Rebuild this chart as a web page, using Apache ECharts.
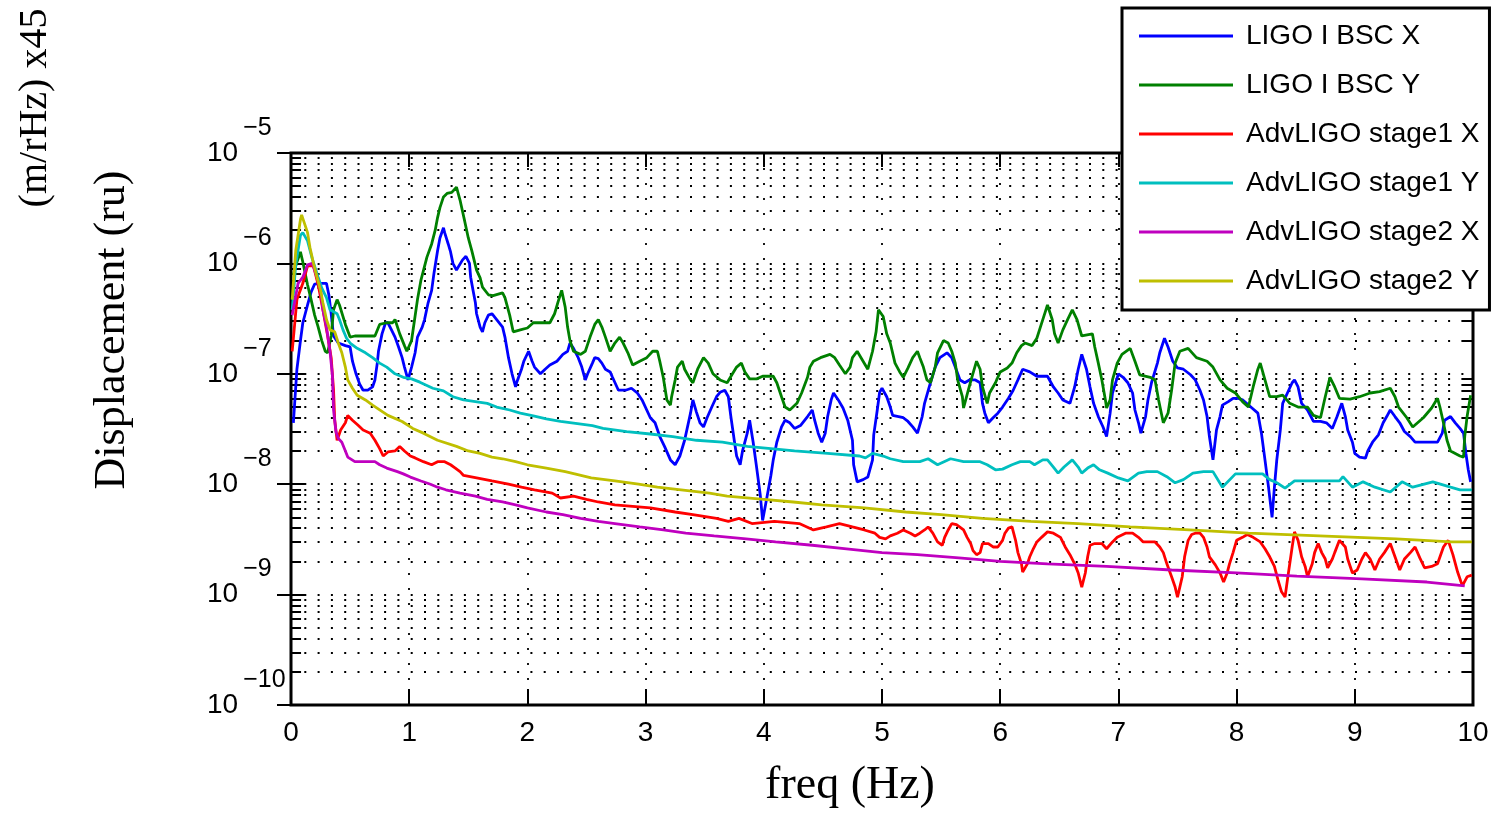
<!DOCTYPE html>
<html><head><meta charset="utf-8">
<script src="https://cdn.jsdelivr.net/npm/echarts@6/dist/echarts.min.js"></script>
<style>html,body{margin:0;padding:0;background:#fff}#c{width:1492px;height:813px}</style>
</head><body><div id="c"></div>
<script>
const seriesNames = ['LIGO I BSC X','LIGO I BSC Y','AdvLIGO stage1 X','AdvLIGO stage1 Y','AdvLIGO stage2 X','AdvLIGO stage2 Y'];
const seriesColors = ['#0000ff','#008000','#ff0000','#00bfbf','#bf00bf','#bfbf00'];

const ligoBscX = [[0.02,3.6e-8],[0.05,1.1e-7],[0.08,2.0e-7],[0.10,2.9e-7],[0.14,4.2e-7],[0.17,5.5e-7],[0.20,6.5e-7],[0.25,6.6e-7],[0.30,6.6e-7],[0.32,5.2e-7],[0.34,3.5e-7],[0.36,2.2e-7],[0.40,1.9e-7],[0.46,1.8e-7],[0.50,1.75e-7],[0.52,1.3e-7],[0.55,1.0e-7],[0.58,8.1e-8],[0.61,7.1e-8],[0.65,7.1e-8],[0.69,7.6e-8],[0.71,8.8e-8],[0.73,1.25e-7],[0.74,1.6e-7],[0.77,2.3e-7],[0.80,2.9e-7],[0.82,2.9e-7],[0.85,2.5e-7],[0.88,2.15e-7],[0.91,1.75e-7],[0.94,1.4e-7],[0.96,1.15e-7],[0.99,8.8e-8],[1.02,1.15e-7],[1.05,1.55e-7],[1.07,2.15e-7],[1.11,2.65e-7],[1.13,3.1e-7],[1.16,4.4e-7],[1.19,5.7e-7],[1.21,8.2e-7],[1.24,1.3e-6],[1.26,1.7e-6],[1.29,2.1e-6],[1.30,1.9e-6],[1.33,1.5e-6],[1.35,1.27e-6],[1.37,1.0e-6],[1.40,8.7e-7],[1.45,1.07e-6],[1.48,1.16e-6],[1.51,1.0e-6],[1.52,7.5e-7],[1.54,5.7e-7],[1.56,4.4e-7],[1.57,3.5e-7],[1.60,2.65e-7],[1.62,2.4e-7],[1.64,2.9e-7],[1.67,3.4e-7],[1.70,3.5e-7],[1.74,3.1e-7],[1.79,2.65e-7],[1.81,2.15e-7],[1.84,1.4e-7],[1.87,1.0e-7],[1.90,7.6e-8],[1.91,8.4e-8],[1.95,1.1e-7],[1.97,1.3e-7],[2.01,1.6e-7],[2.04,1.3e-7],[2.06,1.15e-7],[2.11,1.0e-7],[2.15,1.1e-7],[2.19,1.2e-7],[2.25,1.3e-7],[2.30,1.5e-7],[2.34,1.6e-7],[2.36,1.9e-7],[2.39,1.7e-7],[2.43,1.4e-7],[2.46,1.15e-7],[2.49,8.8e-8],[2.51,1.0e-7],[2.55,1.25e-7],[2.57,1.4e-7],[2.60,1.37e-7],[2.63,1.25e-7],[2.66,1.1e-7],[2.70,1.04e-7],[2.72,9.3e-8],[2.77,7.1e-8],[2.83,7.1e-8],[2.88,7.4e-8],[2.93,6.7e-8],[2.97,5.8e-8],[3.04,4.0e-8],[3.08,3.6e-8],[3.12,2.7e-8],[3.16,2.2e-8],[3.21,1.66e-8],[3.25,1.5e-8],[3.29,1.8e-8],[3.33,2.5e-8],[3.38,4.4e-8],[3.40,5.8e-8],[3.43,4.5e-8],[3.46,3.6e-8],[3.49,3.3e-8],[3.52,4.0e-8],[3.56,5.0e-8],[3.60,6.2e-8],[3.63,6.8e-8],[3.67,7.1e-8],[3.70,6.2e-8],[3.72,4.2e-8],[3.75,2.5e-8],[3.77,1.8e-8],[3.80,1.5e-8],[3.82,2.0e-8],[3.86,2.9e-8],[3.88,3.8e-8],[3.91,2.4e-8],[3.94,1.4e-8],[3.97,8.0e-9],[3.99,4.7e-9],[4.03,8.0e-9],[4.06,1.2e-8],[4.08,1.66e-8],[4.11,2.4e-8],[4.15,3.3e-8],[4.18,3.8e-8],[4.22,3.6e-8],[4.26,3.2e-8],[4.31,3.4e-8],[4.37,4.1e-8],[4.41,4.7e-8],[4.43,3.8e-8],[4.46,2.9e-8],[4.49,2.4e-8],[4.52,2.9e-8],[4.54,4.1e-8],[4.57,5.8e-8],[4.59,6.7e-8],[4.63,5.8e-8],[4.67,4.9e-8],[4.71,3.8e-8],[4.75,2.5e-8],[4.76,1.5e-8],[4.79,1.05e-8],[4.84,1.1e-8],[4.88,1.16e-8],[4.92,1.66e-8],[4.93,2.8e-8],[4.96,4.7e-8],[4.98,6.8e-8],[5.00,7.4e-8],[5.04,6.2e-8],[5.07,5.0e-8],[5.09,4.2e-8],[5.14,4.1e-8],[5.18,4.0e-8],[5.22,3.7e-8],[5.26,3.3e-8],[5.30,2.9e-8],[5.34,4.1e-8],[5.36,5.4e-8],[5.41,8.3e-8],[5.45,1.15e-7],[5.49,1.4e-7],[5.55,1.55e-7],[5.59,1.4e-7],[5.62,1.15e-7],[5.66,8.8e-8],[5.70,8.3e-8],[5.74,8.8e-8],[5.79,8.8e-8],[5.83,8.3e-8],[5.85,5.4e-8],[5.87,4.4e-8],[5.90,3.6e-8],[5.94,4.0e-8],[5.98,4.4e-8],[6.02,5.0e-8],[6.07,6.0e-8],[6.11,7.1e-8],[6.15,8.8e-8],[6.19,1.1e-7],[6.25,1.04e-7],[6.31,9.5e-8],[6.40,9.5e-8],[6.45,7.6e-8],[6.49,6.7e-8],[6.53,5.8e-8],[6.59,5.4e-8],[6.63,7.6e-8],[6.66,1.1e-7],[6.69,1.5e-7],[6.73,1.1e-7],[6.76,7.6e-8],[6.79,5.4e-8],[6.83,4.1e-8],[6.87,3.3e-8],[6.90,2.7e-8],[6.93,4.4e-8],[6.95,6.7e-8],[7.00,1.0e-7],[7.04,9.3e-8],[7.08,8.3e-8],[7.12,6.7e-8],[7.14,4.7e-8],[7.17,3.6e-8],[7.19,2.9e-8],[7.23,4.1e-8],[7.25,5.8e-8],[7.28,8.3e-8],[7.33,1.25e-7],[7.35,1.55e-7],[7.39,2.1e-7],[7.42,1.75e-7],[7.46,1.3e-7],[7.50,1.13e-7],[7.55,1.1e-7],[7.61,9.8e-8],[7.65,8.8e-8],[7.69,7.1e-8],[7.72,5.8e-8],[7.75,4.1e-8],[7.77,2.7e-8],[7.80,1.66e-8],[7.83,3.1e-8],[7.86,4.1e-8],[7.88,5.2e-8],[7.93,5.6e-8],[7.97,6.0e-8],[8.01,6.0e-8],[8.05,5.8e-8],[8.13,4.9e-8],[8.18,4.4e-8],[8.21,2.9e-8],[8.24,1.66e-8],[8.27,9.4e-9],[8.30,5.0e-9],[8.32,9.4e-9],[8.34,1.66e-8],[8.37,3.1e-8],[8.39,5.4e-8],[8.43,6.7e-8],[8.47,8.3e-8],[8.49,8.8e-8],[8.52,7.6e-8],[8.55,5.4e-8],[8.60,4.7e-8],[8.65,3.7e-8],[8.71,3.7e-8],[8.76,3.6e-8],[8.81,3.2e-8],[8.85,4.1e-8],[8.89,5.4e-8],[8.92,4.1e-8],[8.94,3.1e-8],[8.98,2.4e-8],[9.00,1.9e-8],[9.04,1.76e-8],[9.09,1.72e-8],[9.11,2.0e-8],[9.15,2.4e-8],[9.20,2.8e-8],[9.24,3.6e-8],[9.27,4.1e-8],[9.30,4.7e-8],[9.34,4.1e-8],[9.38,3.6e-8],[9.42,3.0e-8],[9.47,2.7e-8],[9.51,2.4e-8],[9.61,2.4e-8],[9.70,2.4e-8],[9.74,2.9e-8],[9.76,3.8e-8],[9.81,4.1e-8],[9.85,3.6e-8],[9.89,3.2e-8],[9.92,2.9e-8],[9.94,1.9e-8],[9.96,1.35e-8],[9.98,1.05e-8]];

const ligoBscY = [[0.02,7.9e-7],[0.05,1.03e-6],[0.08,1.27e-6],[0.10,1.03e-6],[0.14,6.4e-7],[0.17,4.7e-7],[0.20,3.4e-7],[0.23,2.65e-7],[0.26,2.0e-7],[0.29,1.6e-7],[0.31,1.55e-7],[0.34,2.2e-7],[0.36,3.8e-7],[0.39,4.7e-7],[0.41,4.2e-7],[0.46,2.8e-7],[0.50,2.15e-7],[0.54,2.2e-7],[0.63,2.2e-7],[0.71,2.2e-7],[0.75,2.8e-7],[0.81,2.9e-7],[0.86,2.9e-7],[0.88,3.1e-7],[0.92,2.3e-7],[0.96,1.8e-7],[0.98,1.6e-7],[1.02,2.0e-7],[1.07,4.7e-7],[1.10,7.1e-7],[1.15,1.14e-6],[1.19,1.5e-6],[1.22,2.0e-6],[1.24,2.6e-6],[1.26,3.2e-6],[1.29,4.0e-6],[1.32,4.3e-6],[1.36,4.4e-6],[1.40,4.9e-6],[1.43,3.75e-6],[1.45,3.0e-6],[1.47,2.4e-6],[1.50,1.7e-6],[1.53,1.3e-6],[1.57,8.7e-7],[1.60,7.4e-7],[1.62,6.1e-7],[1.67,5.2e-7],[1.71,5.1e-7],[1.79,5.4e-7],[1.81,4.9e-7],[1.85,3.4e-7],[1.88,2.4e-7],[1.94,2.5e-7],[2.00,2.6e-7],[2.05,2.9e-7],[2.19,2.9e-7],[2.23,3.5e-7],[2.26,4.5e-7],[2.29,5.7e-7],[2.32,4.0e-7],[2.34,2.65e-7],[2.36,2.0e-7],[2.39,1.6e-7],[2.45,1.5e-7],[2.49,1.6e-7],[2.53,2.15e-7],[2.57,2.8e-7],[2.60,3.1e-7],[2.63,2.65e-7],[2.66,2.15e-7],[2.70,1.6e-7],[2.74,1.9e-7],[2.78,2.15e-7],[2.81,1.9e-7],[2.85,1.55e-7],[2.89,1.2e-7],[2.95,1.3e-7],[3.01,1.4e-7],[3.06,1.6e-7],[3.10,1.6e-7],[3.12,1.3e-7],[3.15,9.2e-8],[3.18,5.8e-8],[3.21,5.2e-8],[3.22,6.2e-8],[3.25,8.8e-8],[3.27,1.15e-7],[3.31,1.3e-7],[3.33,1.1e-7],[3.38,8.8e-8],[3.40,8.3e-8],[3.44,1.1e-7],[3.49,1.4e-7],[3.53,1.25e-7],[3.57,1.0e-7],[3.63,8.8e-8],[3.69,8.3e-8],[3.73,9.8e-8],[3.77,1.15e-7],[3.81,1.25e-7],[3.84,1.04e-7],[3.88,9.0e-8],[3.94,9.0e-8],[3.99,9.5e-8],[4.08,9.5e-8],[4.11,8.3e-8],[4.15,6.2e-8],[4.18,5.0e-8],[4.22,4.7e-8],[4.28,5.4e-8],[4.32,6.7e-8],[4.37,9.3e-8],[4.39,1.15e-7],[4.42,1.3e-7],[4.48,1.4e-7],[4.56,1.5e-7],[4.60,1.4e-7],[4.64,1.2e-7],[4.69,1.0e-7],[4.73,1.15e-7],[4.75,1.4e-7],[4.79,1.6e-7],[4.84,1.3e-7],[4.88,1.1e-7],[4.92,1.6e-7],[4.95,2.4e-7],[4.97,3.8e-7],[5.01,3.3e-7],[5.04,2.3e-7],[5.07,1.9e-7],[5.11,1.25e-7],[5.15,1.04e-7],[5.18,9.3e-8],[5.22,1.13e-7],[5.26,1.4e-7],[5.30,1.6e-7],[5.32,1.4e-7],[5.35,1.15e-7],[5.38,8.8e-8],[5.41,8.3e-8],[5.45,1.15e-7],[5.47,1.55e-7],[5.52,2.0e-7],[5.56,1.9e-7],[5.59,1.6e-7],[5.62,1.25e-7],[5.64,8.8e-8],[5.68,6.2e-8],[5.69,4.9e-8],[5.73,7.1e-8],[5.76,9.3e-8],[5.80,1.3e-7],[5.83,1.1e-7],[5.85,7.6e-8],[5.89,5.4e-8],[5.91,6.7e-8],[5.96,8.3e-8],[6.00,1.04e-7],[6.06,1.13e-7],[6.10,1.25e-7],[6.14,1.55e-7],[6.18,1.8e-7],[6.21,1.9e-7],[6.27,1.8e-7],[6.31,2.1e-7],[6.34,2.65e-7],[6.38,3.6e-7],[6.40,4.2e-7],[6.44,3.1e-7],[6.46,2.3e-7],[6.49,1.9e-7],[6.53,2.5e-7],[6.57,3.1e-7],[6.61,3.8e-7],[6.65,3.1e-7],[6.69,2.2e-7],[6.78,2.3e-7],[6.80,1.75e-7],[6.83,1.25e-7],[6.86,8.8e-8],[6.89,5.8e-8],[6.90,4.9e-8],[6.93,5.8e-8],[6.95,8.8e-8],[6.99,1.25e-7],[7.03,1.5e-7],[7.10,1.7e-7],[7.14,1.3e-7],[7.18,9.8e-8],[7.27,9.3e-8],[7.31,8.8e-8],[7.34,5.8e-8],[7.38,3.6e-8],[7.42,4.4e-8],[7.45,7.1e-8],[7.48,1.25e-7],[7.52,1.6e-7],[7.59,1.7e-7],[7.66,1.4e-7],[7.75,1.3e-7],[7.80,1.15e-7],[7.86,8.8e-8],[7.92,7.4e-8],[7.99,6.7e-8],[8.05,5.6e-8],[8.10,5.0e-8],[8.14,7.6e-8],[8.18,1.1e-7],[8.20,1.25e-7],[8.24,8.8e-8],[8.28,6.2e-8],[8.34,6.2e-8],[8.39,6.4e-8],[8.45,5.4e-8],[8.52,5.0e-8],[8.60,5.0e-8],[8.65,4.2e-8],[8.71,4.0e-8],[8.75,6.2e-8],[8.79,9.3e-8],[8.83,7.6e-8],[8.87,6.0e-8],[8.96,5.9e-8],[9.04,6.2e-8],[9.13,6.7e-8],[9.21,6.9e-8],[9.30,7.4e-8],[9.34,6.2e-8],[9.37,5.0e-8],[9.44,4.0e-8],[9.49,3.3e-8],[9.58,4.0e-8],[9.65,4.9e-8],[9.70,6.0e-8],[9.72,5.0e-8],[9.75,3.6e-8],[9.78,2.5e-8],[9.81,2.0e-8],[9.89,1.8e-8],[9.92,1.76e-8],[9.93,2.7e-8],[9.95,4.1e-8],[9.98,6.4e-8]];

const advStage1X = [[0.01,1.6e-7],[0.05,4.7e-7],[0.10,6.6e-7],[0.14,9.5e-7],[0.19,9.5e-7],[0.23,6.4e-7],[0.27,3.8e-7],[0.31,2.2e-7],[0.34,1.4e-7],[0.36,7.1e-8],[0.37,3.8e-8],[0.39,2.5e-8],[0.42,3.1e-8],[0.46,3.6e-8],[0.48,4.2e-8],[0.52,3.8e-8],[0.57,3.4e-8],[0.61,3.1e-8],[0.67,2.9e-8],[0.71,2.5e-8],[0.75,2.1e-8],[0.78,1.8e-8],[0.82,1.96e-8],[0.88,2.0e-8],[0.92,2.2e-8],[0.96,2.0e-8],[1.01,1.8e-8],[1.05,1.73e-8],[1.12,1.6e-8],[1.19,1.5e-8],[1.24,1.6e-8],[1.30,1.6e-8],[1.35,1.5e-8],[1.39,1.4e-8],[1.43,1.3e-8],[1.46,1.2e-8],[1.57,1.14e-8],[1.70,1.07e-8],[1.84,1.0e-8],[1.95,9.4e-9],[2.06,8.9e-9],[2.21,8.3e-9],[2.28,7.5e-9],[2.39,7.8e-9],[2.50,7.3e-9],[2.60,6.9e-9],[2.74,6.5e-9],[3.04,6.1e-9],[3.25,5.6e-9],[3.40,5.3e-9],[3.60,4.9e-9],[3.70,4.6e-9],[3.79,4.9e-9],[3.90,4.4e-9],[4.09,4.6e-9],[4.30,4.4e-9],[4.42,3.85e-9],[4.53,4.1e-9],[4.64,4.4e-9],[4.75,4.1e-9],[4.85,3.85e-9],[4.94,3.6e-9],[4.98,3.3e-9],[5.03,3.2e-9],[5.07,3.4e-9],[5.13,3.6e-9],[5.18,3.85e-9],[5.24,3.6e-9],[5.28,3.4e-9],[5.32,3.6e-9],[5.36,3.85e-9],[5.39,4.1e-9],[5.43,3.6e-9],[5.47,3.0e-9],[5.51,2.8e-9],[5.53,3.3e-9],[5.56,3.85e-9],[5.59,4.4e-9],[5.63,4.3e-9],[5.69,3.85e-9],[5.72,3.3e-9],[5.75,2.9e-9],[5.77,2.5e-9],[5.80,2.3e-9],[5.83,2.4e-9],[5.85,2.9e-9],[5.90,2.9e-9],[5.94,2.7e-9],[5.98,2.7e-9],[6.02,3.1e-9],[6.04,3.6e-9],[6.07,4.0e-9],[6.10,4.1e-9],[6.13,3.1e-9],[6.15,2.4e-9],[6.18,1.9e-9],[6.19,1.6e-9],[6.23,1.9e-9],[6.25,2.2e-9],[6.28,2.6e-9],[6.31,3.0e-9],[6.35,3.3e-9],[6.40,3.7e-9],[6.45,3.6e-9],[6.51,3.3e-9],[6.55,2.7e-9],[6.59,2.3e-9],[6.63,1.9e-9],[6.66,1.57e-9],[6.69,1.17e-9],[6.72,1.57e-9],[6.74,2.2e-9],[6.76,2.8e-9],[6.80,2.9e-9],[6.86,2.9e-9],[6.90,2.6e-9],[6.95,3.0e-9],[6.99,3.3e-9],[7.06,3.6e-9],[7.12,3.6e-9],[7.17,3.3e-9],[7.21,3.0e-9],[7.31,3.0e-9],[7.35,2.7e-9],[7.38,2.4e-9],[7.41,1.9e-9],[7.45,1.45e-9],[7.48,1.17e-9],[7.50,9.5e-10],[7.54,1.45e-9],[7.56,2.2e-9],[7.59,3.1e-9],[7.62,3.5e-9],[7.65,3.6e-9],[7.69,3.6e-9],[7.72,3.3e-9],[7.75,2.7e-9],[7.77,2.2e-9],[7.82,1.86e-9],[7.86,1.57e-9],[7.89,1.3e-9],[7.92,1.57e-9],[7.94,1.9e-9],[7.97,2.4e-9],[8.00,3.1e-9],[8.05,3.3e-9],[8.09,3.5e-9],[8.14,3.3e-9],[8.20,3.0e-9],[8.24,2.6e-9],[8.28,2.2e-9],[8.32,1.8e-9],[8.35,1.36e-9],[8.38,1.06e-9],[8.41,9.5e-10],[8.43,1.36e-9],[8.47,2.7e-9],[8.49,3.7e-9],[8.52,3.1e-9],[8.55,2.2e-9],[8.58,1.8e-9],[8.60,1.45e-9],[8.64,1.9e-9],[8.66,2.4e-9],[8.69,2.9e-9],[8.72,2.4e-9],[8.75,2.1e-9],[8.77,1.75e-9],[8.81,2.1e-9],[8.83,2.4e-9],[8.87,3.1e-9],[8.92,2.7e-9],[8.94,2.1e-9],[8.98,1.57e-9],[9.02,1.67e-9],[9.06,2.1e-9],[9.09,2.4e-9],[9.13,2.1e-9],[9.17,1.67e-9],[9.21,2.1e-9],[9.25,2.4e-9],[9.30,2.9e-9],[9.34,2.2e-9],[9.38,1.67e-9],[9.42,2.1e-9],[9.47,2.4e-9],[9.51,2.7e-9],[9.55,2.15e-9],[9.59,1.75e-9],[9.65,1.8e-9],[9.70,1.9e-9],[9.75,2.7e-9],[9.79,3.1e-9],[9.83,2.3e-9],[9.87,1.6e-9],[9.91,1.2e-9],[9.95,1.45e-9],[9.99,1.5e-9]];

const advStage1Y = [[0.01,3.8e-7],[0.04,9.7e-7],[0.08,1.8e-6],[0.10,1.9e-6],[0.14,1.6e-6],[0.18,1.1e-6],[0.23,7.5e-7],[0.26,6.0e-7],[0.30,4.9e-7],[0.33,3.8e-7],[0.39,3.5e-7],[0.41,3.1e-7],[0.44,2.5e-7],[0.47,2.1e-7],[0.50,1.9e-7],[0.56,1.7e-7],[0.63,1.55e-7],[0.69,1.4e-7],[0.75,1.25e-7],[0.81,1.15e-7],[0.88,1.0e-7],[0.95,9.3e-8],[1.02,9.0e-8],[1.09,8.4e-8],[1.20,7.4e-8],[1.29,7.0e-8],[1.37,6.2e-8],[1.46,5.8e-8],[1.66,5.4e-8],[1.74,5.0e-8],[1.85,4.7e-8],[1.94,4.4e-8],[2.05,4.15e-8],[2.16,3.9e-8],[2.28,3.7e-8],[2.55,3.4e-8],[2.64,3.2e-8],[2.84,3.0e-8],[3.04,2.85e-8],[3.23,2.7e-8],[3.43,2.5e-8],[3.65,2.4e-8],[3.86,2.2e-8],[4.26,2.0e-8],[4.54,1.9e-8],[4.81,1.8e-8],[4.86,1.73e-8],[4.92,1.9e-8],[5.01,1.8e-8],[5.07,1.7e-8],[5.18,1.6e-8],[5.32,1.6e-8],[5.39,1.7e-8],[5.47,1.5e-8],[5.58,1.7e-8],[5.69,1.6e-8],[5.83,1.6e-8],[5.89,1.5e-8],[5.96,1.35e-8],[6.02,1.37e-8],[6.10,1.5e-8],[6.17,1.6e-8],[6.25,1.6e-8],[6.29,1.5e-8],[6.36,1.66e-8],[6.40,1.66e-8],[6.45,1.43e-8],[6.49,1.26e-8],[6.54,1.43e-8],[6.61,1.66e-8],[6.66,1.43e-8],[6.69,1.26e-8],[6.74,1.4e-8],[6.79,1.5e-8],[6.84,1.35e-8],[6.91,1.26e-8],[7.00,1.14e-8],[7.08,1.07e-8],[7.17,1.26e-8],[7.24,1.3e-8],[7.33,1.3e-8],[7.41,1.17e-8],[7.48,1.03e-8],[7.55,1.1e-8],[7.63,1.26e-8],[7.72,1.3e-8],[7.80,1.3e-8],[7.88,9.4e-9],[7.99,1.24e-8],[8.14,1.24e-8],[8.22,1.24e-8],[8.28,1.1e-8],[8.34,1.03e-8],[8.41,9.2e-9],[8.49,1.07e-8],[8.87,1.07e-8],[8.90,1.17e-8],[8.98,9.4e-9],[9.07,1.05e-8],[9.17,9.4e-9],[9.30,8.5e-9],[9.40,1.05e-8],[9.49,9.4e-9],[9.66,1.05e-8],[9.81,9.4e-9],[9.89,8.9e-9],[9.99,8.9e-9]];

const advStage2X = [[0.01,3.4e-7],[0.06,6.6e-7],[0.10,7.5e-7],[0.14,9.7e-7],[0.18,1.0e-6],[0.22,7.5e-7],[0.25,5.7e-7],[0.27,3.8e-7],[0.30,2.65e-7],[0.33,1.6e-7],[0.35,9.8e-8],[0.36,4.7e-8],[0.38,3.0e-8],[0.40,2.6e-8],[0.43,2.4e-8],[0.46,2.0e-8],[0.48,1.76e-8],[0.54,1.6e-8],[0.63,1.6e-8],[0.71,1.6e-8],[0.75,1.5e-8],[0.81,1.4e-8],[0.90,1.3e-8],[0.95,1.24e-8],[1.01,1.16e-8],[1.10,1.07e-8],[1.18,1.0e-8],[1.24,9.4e-9],[1.31,8.9e-9],[1.43,8.3e-9],[1.56,7.8e-9],[1.66,7.3e-9],[1.79,6.9e-9],[1.90,6.5e-9],[2.00,6.1e-9],[2.16,5.6e-9],[2.30,5.3e-9],[2.45,4.9e-9],[2.60,4.6e-9],[2.74,4.4e-9],[2.95,4.1e-9],[3.15,3.85e-9],[3.34,3.6e-9],[3.58,3.4e-9],[3.85,3.2e-9],[4.10,3.0e-9],[4.41,2.8e-9],[4.70,2.6e-9],[5.00,2.4e-9],[5.30,2.3e-9],[5.65,2.15e-9],[6.00,2.0e-9],[6.40,1.9e-9],[6.90,1.8e-9],[7.45,1.67e-9],[8.00,1.57e-9],[8.51,1.47e-9],[9.06,1.39e-9],[9.61,1.3e-9],[9.93,1.2e-9]];

const advStage2Y = [[0.01,4.7e-7],[0.04,1.3e-6],[0.08,2.5e-6],[0.09,2.75e-6],[0.14,1.9e-6],[0.16,1.4e-6],[0.19,1.0e-6],[0.22,7.5e-7],[0.25,5.7e-7],[0.27,4.4e-7],[0.30,3.1e-7],[0.33,2.5e-7],[0.37,2.4e-7],[0.40,1.9e-7],[0.43,1.55e-7],[0.46,1.15e-7],[0.48,8.8e-8],[0.52,7.4e-8],[0.56,6.4e-8],[0.63,5.8e-8],[0.69,5.2e-8],[0.82,4.2e-8],[0.94,3.7e-8],[1.03,3.2e-8],[1.12,2.9e-8],[1.24,2.5e-8],[1.40,2.2e-8],[1.50,2.0e-8],[1.60,1.9e-8],[1.70,1.76e-8],[1.79,1.7e-8],[1.90,1.6e-8],[2.00,1.5e-8],[2.16,1.4e-8],[2.32,1.3e-8],[2.40,1.24e-8],[2.54,1.14e-8],[2.74,1.07e-8],[2.94,1.0e-8],[3.10,9.4e-9],[3.30,8.9e-9],[3.54,8.3e-9],[3.69,7.8e-9],[4.00,7.3e-9],[4.25,6.9e-9],[4.49,6.5e-9],[4.85,6.1e-9],[5.20,5.6e-9],[5.50,5.3e-9],[5.85,4.9e-9],[6.26,4.6e-9],[6.66,4.4e-9],[7.10,4.1e-9],[7.60,3.85e-9],[8.10,3.6e-9],[8.70,3.4e-9],[9.35,3.2e-9],[9.82,3.0e-9],[9.99,3.0e-9]];

const xTickLabels = ['0','1','2','3','4','5','6','7','8','9','10'];
const yTickExponents = ['\u221210','\u22129','\u22128','\u22127','\u22126','\u22125'];
const yMinorValues = [2e-10,3e-10,4e-10,5e-10,6e-10,7e-10,8e-10,9e-10,
  2e-9,3e-9,4e-9,5e-9,6e-9,7e-9,8e-9,9e-9,
  2e-8,3e-8,4e-8,5e-8,6e-8,7e-8,8e-8,9e-8,
  2e-7,3e-7,4e-7,5e-7,6e-7,7e-7,8e-7,9e-7,
  2e-6,3e-6,4e-6,5e-6,6e-6,7e-6,8e-6,9e-6];

const allData = [ligoBscX, ligoBscY, advStage1X, advStage1Y, advStage2X, advStage2Y];
const SANS = "'Liberation Sans', Arial, sans-serif";
const SERIF = "'Liberation Serif', 'Times New Roman', serif";

const chart = echarts.init(document.getElementById('c'), null, {renderer: 'canvas'});

const dotted = {color: '#000', width: 1.8, type: [2, 11.3]};
const lineSeries = seriesNames.map((n, i) => ({
  name: n, type: 'line', data: allData[i], showSymbol: false, symbol: 'none',
  color: seriesColors[i], lineStyle: {color: seriesColors[i], width: 2.8}, z: 3,
  animation: false
}));

const gridSeries = {
  name: '_grid', type: 'line', data: [], z: 1, silent: true, animation: false,
  markLine: {
    silent: true, symbol: 'none', animation: false, z: 1,
    label: {show: false},
    lineStyle: dotted,
    data: yMinorValues.map(v => [{coord: [0, v]}, {coord: [10, v]}])
  }
};
const tickSeries = {
  name: '_ticks', type: 'line', data: [], z: 2, silent: true, animation: false,
  markLine: {
    silent: true, symbol: 'none', animation: false, z: 2,
    label: {show: false},
    lineStyle: {color: '#000', width: 2, type: 'solid'},
    data: yMinorValues.map(v => [{coord: [0, v]}, {coord: [0.085, v]}])
      .concat(yMinorValues.map(v => [{coord: [9.915, v]}, {coord: [10, v]}]))
  }
};

chart.setOption({
  backgroundColor: '#fff',
  animation: false,
  grid: {left: 291, right: 19, top: 153, bottom: 108, show: true, borderColor: '#000', borderWidth: 3, backgroundColor: 'transparent'},
  xAxis: [{
    type: 'value', min: 0, max: 10, interval: 1, position: 'bottom',
    axisLine: {show: false},
    axisTick: {show: true, inside: true, length: 16, lineStyle: {color: '#000', width: 2}},
    axisLabel: {color: '#000', fontFamily: SANS, fontSize: 28, margin: 14,
      formatter: (v) => xTickLabels[Math.round(v)]},
    splitLine: {show: true, lineStyle: {color: '#000', width: 1.8, type: [2, 13]}}
  }, {
    type: 'value', min: 0, max: 10, interval: 1, position: 'top',
    axisLine: {show: false},
    axisTick: {show: true, inside: true, length: 14, lineStyle: {color: '#000', width: 2}},
    axisLabel: {show: false}, splitLine: {show: false}
  }],
  yAxis: [{
    type: 'log', logBase: 10, min: 1e-10, max: 1e-5, position: 'left',
    axisLine: {show: false},
    axisTick: {show: true, inside: true, length: 14, lineStyle: {color: '#000', width: 2}},
    axisLabel: {
      align: 'left', margin: 84,
      formatter: (v) => {
        const k = Math.round(Math.log10(v)) + 10;
        return '{b|10}{e|' + yTickExponents[k] + '}';
      },
      rich: {
        b: {fontFamily: SANS, fontSize: 28, color: '#000'},
        e: {fontFamily: SANS, fontSize: 25, color: '#000', padding: [0, 0, 50, 5]}
      }
    },
    splitLine: {show: true, lineStyle: dotted}
  }, {
    type: 'log', logBase: 10, min: 1e-10, max: 1e-5, position: 'right',
    axisLine: {show: false},
    axisTick: {show: true, inside: true, length: 14, lineStyle: {color: '#000', width: 2}},
    axisLabel: {show: false}, splitLine: {show: false}
  }],
  legend: {
    data: seriesNames, orient: 'vertical', left: 1122, top: 8, z: 10,
    padding: [11, 10, 12, 17], itemGap: 15, itemWidth: 94, itemHeight: 3,
    icon: 'rect', backgroundColor: '#fff', borderColor: '#000', borderWidth: 3, borderRadius: 0,
    textStyle: {fontFamily: SANS, fontSize: 28, color: '#000', lineHeight: 34, padding: [0, 0, 0, 8]},
    selectedMode: false
  },
  graphic: [
    {type: 'text', x: 112, y: 330, rotation: Math.PI / 2, z: 10,
      style: {text: 'Displacement (ru)', font: '44px ' + SERIF, fill: '#000', align: 'center', verticalAlign: 'middle'}},
    {type: 'text', x: 35, y: 108, rotation: Math.PI / 2, z: 10,
      style: {text: '(m/rHz) x45', font: '40px ' + SERIF, fill: '#000', align: 'center', verticalAlign: 'middle'}},
    {type: 'text', x: 850, y: 786, z: 10,
      style: {text: 'freq (Hz)', font: '46px ' + SERIF, fill: '#000', align: 'center', verticalAlign: 'middle'}}
  ],
  series: [gridSeries].concat(lineSeries).concat([tickSeries])
});
</script>
</body></html>
